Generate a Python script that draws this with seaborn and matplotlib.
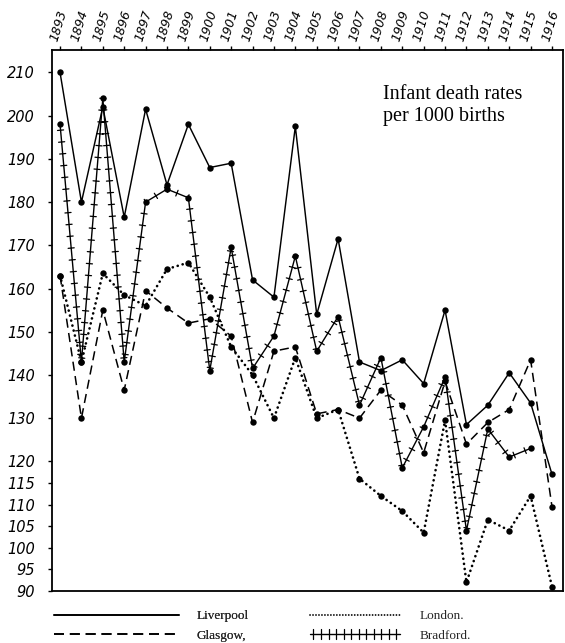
import matplotlib
matplotlib.use("Agg")
import numpy as np
import pandas as pd
import matplotlib.pyplot as plt
import seaborn as sns
from matplotlib import patheffects as pe
from matplotlib.lines import Line2D

# ---------------- data ----------------
years = list(range(1893, 1917))
liverpool = [210, 180, 202, 176.5, 201.5, 184, 198, 188, 189, 162, 158, 197.5,
             154, 171.5, 143, 141, 143.5, 138, 155, 128.5, 133, 140.5, 133.5, 117]
glasgow = [163, 130, 155, 136.5, 159.5, 155.5, 152, 153, 149, 129, 145.5, 146.5,
           131, 132, 130, 136.5, 133, 122, 138.5, 124, 129, 132, 143.5, 109.5]
london = [163, 143, 163.5, 158.5, 156, 164.5, 166, 158, 146.5, 140, 130, 144,
          130, 132, 116, 112, 108.5, 103.5, 129.5, 92, 106.5, 104, 112, 91]
bradford_years = list(range(1893, 1916))
bradford = [198, 143, 204, 143, 180, 183, 181, 141, 169.5, 141.5, 149, 167.5,
            145.5, 153.5, 133, 144, 118.5, 128, 139.5, 104, 127.5, 121, 123]

year_labels = [str(y) for y in years]
y_ticks = [90, 95, 100, 105, 110, 115, 120, 130, 140, 150, 160, 170, 180, 190, 200, 210]
y_labels = [str(v) for v in y_ticks]
title_text = "Infant death rates\nper 1000 births"
city_names = ["Liverpool", "Glasgow,", "London.", "Bradford."]

# ---------------- style ----------------
sns.set_theme(style="white")
plt.rcParams["font.family"] = ["DejaVu Sans"]

W, H = 565, 643
fig = plt.figure(figsize=(W / 100, H / 100), dpi=100)
ax = fig.add_axes([51.7 / W, 1 - 591 / H, 511 / W, 541 / H])

df_liv = pd.DataFrame({"year": years, "rate": liverpool})
df_gla = pd.DataFrame({"year": years, "rate": glasgow})
df_lon = pd.DataFrame({"year": years, "rate": london})
df_bra = pd.DataFrame({"year": bradford_years, "rate": bradford})

mk = dict(marker="o", markersize=4.6, markeredgecolor="black",
          markerfacecolor="black", markeredgewidth=0)

solid_style = dict(color="black", lw=1.05, linestyle="-")
dash_style = dict(color="black", lw=1.1, linestyle=(0, (6, 3.5)))
dot_style = dict(color="black", lw=1.9, linestyle=(0, (0.05, 1.9)),
                 dash_capstyle="round")
tick_effects = [pe.withTickedStroke(spacing=8.5, angle=90, length=0.26, linewidth=0.9),
                pe.TickedStroke(spacing=8.5, angle=-90, length=0.26, linewidth=0.9)]

sns.lineplot(data=df_liv, x="year", y="rate", ax=ax, errorbar=None, **solid_style, **mk)
sns.lineplot(data=df_gla, x="year", y="rate", ax=ax, errorbar=None, **dash_style, **mk)
sns.lineplot(data=df_lon, x="year", y="rate", ax=ax, errorbar=None, **dot_style, **mk)
sns.lineplot(data=df_bra, x="year", y="rate", ax=ax, errorbar=None,
             color="black", lw=1.0, path_effects=tick_effects)
sns.lineplot(data=df_bra, x="year", y="rate", ax=ax, errorbar=None,
             linestyle="none", **mk)

# ---------------- axes ----------------
ax.set_xlim(1892.61, 1916.5)
ax.set_ylim(90, 215.2)
ax.set_xlabel("")
ax.set_ylabel("")
for s in ax.spines.values():
    s.set_visible(True)
    s.set_color("black")
    s.set_linewidth(1.3)

ax.xaxis.tick_top()
ax.set_xticks(years)
ax.set_xticklabels(year_labels, rotation=73, ha="left", va="bottom",
                   rotation_mode="anchor", fontstyle="italic", fontsize=9)
ax.tick_params(axis="x", top=True, bottom=False, labeltop=True, labelbottom=False,
               length=3, width=1, direction="out", pad=2, colors="black")
ax.set_yticks(y_ticks)
ax.set_yticklabels(y_labels, fontstyle="italic", fontsize=10.5)
ax.tick_params(axis="y", left=True, length=3, width=1, direction="out", pad=9,
               colors="black")
ax.grid(False)

ax.text(0.648, 0.935, title_text, transform=ax.transAxes, fontsize=14.5,
        family="Liberation Serif", va="top", ha="left", linespacing=1.2,
        color="black")

# ---------------- legend ----------------
leg_font = dict(family="Liberation Serif", size=9.5)
h_liv = Line2D([], [], color="black", lw=1.2, linestyle="-")
h_gla = Line2D([], [], color="black", lw=1.2, linestyle=(0, (6, 3.5)))
h_lon = Line2D([], [], color="black", lw=1.3, linestyle=(0, (0.05, 1.6)),
               dash_capstyle="round")
h_bra = Line2D([], [], color="black", lw=1.0, linestyle="-")

leg1 = fig.legend([h_liv, h_gla], city_names[:2], loc="upper left",
                  bbox_to_anchor=(54 / W, 1 - 610 / H), prop=leg_font,
                  frameon=False, borderpad=0, borderaxespad=0,
                  handlelength=9.5, handletextpad=1.3, labelspacing=0.55)
leg2 = fig.legend([h_lon, h_bra], city_names[2:], loc="upper left",
                  bbox_to_anchor=(310 / W, 1 - 610 / H), prop=leg_font,
                  frameon=False, borderpad=0, borderaxespad=0,
                  handlelength=6.8, handletextpad=1.5, labelspacing=0.55)
fig.add_artist(leg1)
leg2.get_lines()[1].set_path_effects(
    [pe.withTickedStroke(spacing=5, angle=90, length=0.7, linewidth=0.9),
     pe.TickedStroke(spacing=5, angle=-90, length=0.7, linewidth=0.9)])

fig.savefig("out.png", dpi=100, facecolor="white")
